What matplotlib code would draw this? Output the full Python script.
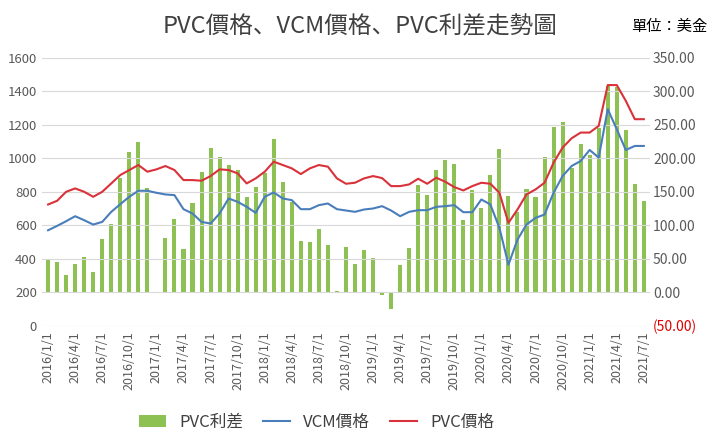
import matplotlib

matplotlib.use("Agg")
import matplotlib.pyplot as plt
import numpy as np

plt.rcParams["font.family"] = ["Noto Sans CJK TC", "Noto Sans CJK JP", "Noto Sans CJK SC",
                               "Noto Sans CJK KR", "DejaVu Sans"]

# monthly data 2016/1 .. 2021/7
months = [f"{2016 + i // 12}/{i % 12 + 1}/1" for i in range(67)]

spread = [47.5, 45, 25, 42.5, 52.5, 30, 78.75, 102.5, 170, 208.75, 225, 155,
          0, 81, 110, 65, 132.5, 180, 215, 202.5, 190, 182.5, 142.5, 157.5,
          177.5, 229, 165, 135, 76, 75, 95, 71, 1, 67.5, 42.5, 63.5,
          50.5, -5, -25, 40, 66, 159.5, 145, 182, 197.5, 192, 108.5, 153,
          125.5, 175, 214.5, 143.5, 120.5, 154.5, 142.5, 202, 247.5, 254, 186, 221,
          205, 245.5, 308.5, 307, 242.5, 162, 136]

pvc_price = [724, 746, 800, 820, 800, 770, 800, 850, 900, 930, 960, 920,
             934, 954, 930, 870, 870, 866, 894, 934, 930, 910, 850, 880,
             920, 980, 960, 940, 906, 940, 960, 950, 880, 848, 854, 880,
             894, 882, 834, 834, 844, 878, 848, 884, 860, 828, 808, 834,
             854, 848, 794, 614, 694, 784, 814, 854, 974, 1064, 1120, 1154,
             1154, 1194, 1438, 1438, 1344, 1234, 1234]

vcm_price = [570, 596, 624, 654, 630, 604, 620, 680, 726, 770, 806, 806,
             794, 784, 780, 696, 670, 620, 610, 670, 760, 740, 710, 674,
             770, 796, 760, 750, 696, 696, 720, 730, 696, 688, 680, 694,
             700, 714, 688, 654, 680, 690, 690, 710, 714, 720, 678, 678,
             754, 724, 584, 364, 514, 604, 644, 664, 794, 894, 954, 984,
             1050, 1004, 1294, 1174, 1050, 1074, 1074]

x = np.arange(len(months))

fig = plt.figure(figsize=(7.2, 4.46), dpi=100)
ax = fig.add_axes([0.058, 0.27, 0.845, 0.60])
ax2 = ax.twinx()

ax2.bar(x, spread, width=0.45, color="#8dc153", label="PVC利差", zorder=2)
ax.plot(x, vcm_price, color="#4a7ebb", lw=1.5, label="VCM價格", zorder=3)
ax.plot(x, pvc_price, color="#d9323a", lw=1.5, label="PVC價格", zorder=3)
ax.set_zorder(ax2.get_zorder() + 1)
ax.patch.set_visible(False)

ax.set_xlim(-0.7, len(x) - 0.3)
ax.set_ylim(0, 1600)
ax.set_yticks(np.arange(0, 1601, 200))
right_ticks = np.arange(-50, 351, 50)
ax2.set_ylim(-50, 350)
ax2.set_yticks(right_ticks)
ax2.set_yticklabels([f"({abs(v):.2f})" if v < 0 else f"{v:.2f}" for v in right_ticks])

ax.set_xticks(x[::3])
ax.set_xticklabels(months[::3], rotation=90)
ax.grid(axis="y", color="#d9d9d9", lw=0.8)
ax.set_axisbelow(True)
for a in (ax, ax2):
    for s in a.spines.values():
        s.set_visible(False)
    a.tick_params(length=0, labelsize=9.5, colors="#595959")
ax2.tick_params(labelsize=10, pad=2)
ax.tick_params(axis="x", labelsize=9, pad=4)

fig.canvas.draw()
for lab in ax2.yaxis.get_ticklabels():
    if lab.get_text().startswith("("):
        lab.set_color("#e00000")

fig.text(0.50, 0.94, "PVC價格、VCM價格、PVC利差走勢圖", ha="center", va="center",
         fontsize=17, color="#404040")
fig.text(0.93, 0.94, "單位：美金", ha="center", va="center", fontsize=11, color="#000000")

h2, l2 = ax2.get_legend_handles_labels()
h1, l1 = ax.get_legend_handles_labels()
fig.legend(h2 + h1, l2 + l1, loc="lower center", bbox_to_anchor=(0.44, 0.0), ncol=3,
           frameon=False, fontsize=12, handlelength=1.6, columnspacing=1.2,
           labelcolor="#404040")

fig.savefig("out.png", dpi=100)
